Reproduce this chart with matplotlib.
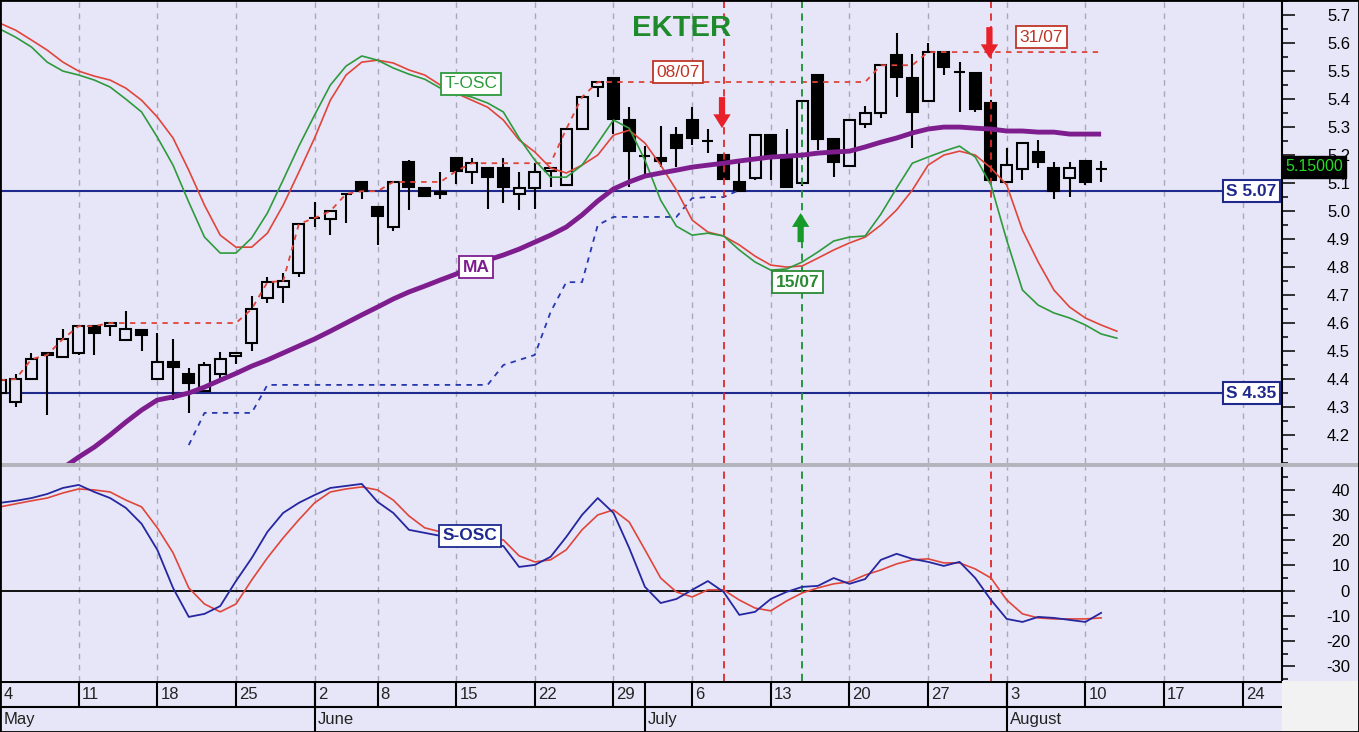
import numpy as np
import matplotlib
matplotlib.use('Agg')
import matplotlib.pyplot as plt
from matplotlib.ticker import MultipleLocator
from matplotlib.patches import Rectangle
from matplotlib.transforms import blended_transform_factory

plt.rcParams['font.family'] = ['Liberation Sans', 'DejaVu Sans']
plt.rcParams['axes.unicode_minus'] = False

# ---- data (trading-day index 0 = Mon 4 May) ----
opens = [4.350, 4.318, 4.400, 4.493, 4.479, 4.493, 4.589, 4.589, 4.539, 4.575,
         4.400, 4.461, 4.418, 4.357, 4.418, 4.482, 4.529, 4.689, 4.729, 4.779,
         4.975, 4.971, 5.061, 5.104, 5.014, 4.943, 5.175, 5.082, 5.061, 5.189,
         5.139, 5.154, 5.154, 5.061, 5.082, 5.143, 5.093, 5.293, 5.443, 5.475,
         5.325, 5.196, 5.189, 5.271, 5.325, 5.250, 5.200, 5.104, 5.118, 5.271,
         5.200, 5.100, 5.486, 5.257, 5.161, 5.311, 5.350, 5.557, 5.475, 5.393,
         5.568, 5.496, 5.493, 5.386, 5.104, 5.150, 5.211, 5.154, 5.118, 5.179,
         5.150]
highs = [4.414, 4.418, 4.493, 4.493, 4.579, 4.589, 4.589, 4.600, 4.643, 4.575,
         4.564, 4.543, 4.439, 4.461, 4.496, 4.493, 4.696, 4.764, 4.779, 4.957,
         5.032, 5.004, 5.061, 5.104, 5.014, 5.104, 5.182, 5.086, 5.139, 5.189,
         5.189, 5.154, 5.189, 5.139, 5.171, 5.154, 5.293, 5.410, 5.461, 5.475,
         5.371, 5.232, 5.304, 5.300, 5.371, 5.293, 5.200, 5.171, 5.271, 5.271,
         5.293, 5.393, 5.486, 5.257, 5.325, 5.375, 5.521, 5.636, 5.561, 5.600,
         5.568, 5.532, 5.493, 5.396, 5.225, 5.243, 5.254, 5.175, 5.175, 5.179,
         5.179]
lows = [4.307, 4.300, 4.400, 4.271, 4.479, 4.486, 4.486, 4.554, 4.539, 4.500,
        4.400, 4.325, 4.279, 4.357, 4.404, 4.454, 4.500, 4.671, 4.671, 4.764,
        4.943, 4.914, 4.957, 5.043, 4.879, 4.929, 5.004, 5.054, 5.043, 5.096,
        5.096, 5.007, 5.029, 5.004, 5.007, 5.086, 5.090, 5.293, 5.407, 5.275,
        5.086, 5.129, 5.157, 5.157, 5.236, 5.207, 5.114, 5.071, 5.111, 5.111,
        5.086, 5.090, 5.218, 5.121, 5.161, 5.296, 5.332, 5.407, 5.225, 5.393,
        5.486, 5.354, 5.354, 5.111, 5.104, 5.111, 5.154, 5.043, 5.050, 5.093,
        5.104]
closes = [4.396, 4.400, 4.471, 4.486, 4.543, 4.589, 4.564, 4.600, 4.579, 4.557,
          4.461, 4.443, 4.386, 4.450, 4.471, 4.493, 4.650, 4.746, 4.750, 4.954,
          4.975, 5.000, 5.061, 5.071, 4.982, 5.104, 5.086, 5.054, 5.068, 5.143,
          5.171, 5.121, 5.086, 5.082, 5.139, 5.154, 5.293, 5.407, 5.461, 5.329,
          5.214, 5.196, 5.179, 5.225, 5.261, 5.250, 5.114, 5.071, 5.271, 5.193,
          5.086, 5.393, 5.257, 5.175, 5.325, 5.350, 5.521, 5.479, 5.354, 5.568,
          5.514, 5.496, 5.364, 5.111, 5.164, 5.243, 5.175, 5.071, 5.154, 5.104,
          5.150]

ma_start = 4
ma = [4.082, 4.121, 4.157, 4.200, 4.246, 4.289, 4.325, 4.336, 4.350, 4.371,
      4.396, 4.420, 4.446, 4.468, 4.493, 4.518, 4.543, 4.571, 4.600, 4.629,
      4.657, 4.686, 4.711, 4.732, 4.754, 4.775, 4.807, 4.825, 4.843, 4.864,
      4.889, 4.914, 4.943, 4.986, 5.036, 5.079, 5.104, 5.125, 5.136, 5.146,
      5.157, 5.164, 5.171, 5.179, 5.186, 5.193, 5.196, 5.200, 5.207, 5.211,
      5.214, 5.229, 5.246, 5.261, 5.279, 5.293, 5.300, 5.300, 5.296, 5.293,
      5.286, 5.286, 5.282, 5.282, 5.275, 5.275, 5.275]

low_start = 12
low_stop = [4.164, 4.279, 4.279, 4.279, 4.279, 4.379, 4.379, 4.379, 4.379, 4.379,
            4.379, 4.379, 4.379, 4.379, 4.379, 4.379, 4.379, 4.379, 4.379, 4.379,
            4.450, 4.468, 4.486, 4.639, 4.746, 4.746, 4.950, 4.979, 4.979, 4.979,
            4.979, 4.979, 5.046, 5.050, 5.050, 5.075]

t_osc_fast = [5.650, 5.621, 5.586, 5.532, 5.500, 5.486, 5.468, 5.443, 5.400, 5.354,
              5.264, 5.164, 5.032, 4.907, 4.850, 4.850, 4.904, 4.993, 5.111, 5.232,
              5.343, 5.450, 5.518, 5.554, 5.539, 5.511, 5.489, 5.471, 5.439, 5.421,
              5.407, 5.386, 5.354, 5.261, 5.182, 5.121, 5.121, 5.164, 5.243, 5.325,
              5.296, 5.182, 5.039, 4.946, 4.914, 4.921, 4.911, 4.861, 4.818, 4.789,
              4.793, 4.818, 4.854, 4.893, 4.907, 4.911, 4.989, 5.082, 5.171, 5.193,
              5.214, 5.232, 5.193, 5.093, 4.896, 4.718, 4.664, 4.636, 4.618, 4.593,
              4.561, 4.546]
t_osc_slow = [5.671, 5.646, 5.611, 5.575, 5.532, 5.500, 5.482, 5.468, 5.439, 5.396,
              5.336, 5.261, 5.146, 5.021, 4.914, 4.871, 4.871, 4.921, 5.021, 5.139,
              5.261, 5.396, 5.486, 5.532, 5.539, 5.529, 5.504, 5.486, 5.450, 5.421,
              5.396, 5.371, 5.325, 5.254, 5.211, 5.154, 5.136, 5.164, 5.200, 5.271,
              5.289, 5.243, 5.164, 5.075, 4.968, 4.925, 4.911, 4.879, 4.839, 4.807,
              4.800, 4.804, 4.832, 4.861, 4.886, 4.907, 4.950, 5.004, 5.075, 5.164,
              5.200, 5.214, 5.200, 5.154, 5.093, 4.932, 4.818, 4.718, 4.657, 4.618,
              4.593, 4.571]

s_osc_fast = [34.8, 35.6, 36.7, 38.3, 40.7, 41.9, 39.1, 36.7, 32.8, 26.5,
              16.2, 1.1, -10.4, -9.2, -6.1, 3.8, 12.9, 23.3, 30.8, 34.8,
              37.9, 40.7, 41.5, 42.3, 35.2, 30.8, 24.1, 22.9, 21.7, 20.1,
              18.9, 18.1, 17.7, 9.4, 10.2, 13.4, 21.3, 30.0, 36.7, 30.8,
              16.9, 1.5, -4.9, -3.3, 0.3, 3.8, -0.5, -9.6, -8.4, -3.3,
              -0.5, 1.5, 1.9, 5.0, 2.7, 4.6, 12.2, 14.6, 12.6, 11.4,
              9.8, 11.4, 5.0, -3.7, -11.2, -12.4, -10.4, -10.8, -11.6, -12.4,
              -8.8]
s_osc_slow = [33.2, 34.4, 35.6, 36.7, 38.7, 40.3, 39.9, 39.1, 35.9, 33.2,
              24.9, 15.0, 1.1, -5.3, -8.4, -5.3, 4.2, 13.0, 20.9, 28.1,
              34.8, 39.1, 40.3, 41.1, 39.9, 35.9, 29.6, 24.9, 23.3, 22.1,
              20.9, 20.9, 20.1, 13.8, 11.4, 12.2, 16.2, 24.1, 30.0, 32.0,
              27.2, 16.2, 5.0, -0.5, -2.5, 0.3, 0.3, -3.7, -6.9, -8.0,
              -4.1, -0.9, 1.1, 2.7, 3.5, 6.2, 8.2, 10.6, 12.2, 12.6,
              11.0, 11.0, 8.6, 5.0, -3.7, -9.2, -10.8, -11.2, -11.2, -11.2,
              -10.8]

support_levels = [5.07, 4.35]
last_price = 5.15

sell_days = [46, 63]          # 08/07, 31/07
sell_labels = ['08/07', '31/07']
buy_days = [51]               # 15/07
buy_labels = ['15/07']

week_idx = [0, 5, 10, 15, 20, 24, 29, 34, 39, 44, 49, 54, 59, 64, 69, 74, 79]
week_lbl = ['4', '11', '18', '25', '2', '8', '15', '22', '29', '6', '13', '20',
            '27', '3', '10', '17', '24']
month_idx = [0, 20, 41, 64]
month_lbl = ['May', 'June', 'July', 'August']

# ---- style ----
BG = '#E6E6F8'
GRID = '#A8A8B8'
RED = '#E0453A'
GREEN = '#2E9A3C'
NAVY = '#1F2A8C'
PURPLE = '#7E1E8E'
SIG_RED = '#E02828'
SIG_GREEN = '#1A9030'

W, H = 1359, 732
fig = plt.figure(figsize=(W / 100, H / 100), dpi=100)
fig.patch.set_facecolor(BG)

def fx(px):
    return px / W

def fy(py):
    return 1 - py / H

ax = fig.add_axes([0, fy(463), fx(1282), (463) / H])
ax2 = fig.add_axes([0, fy(681), fx(1282), (681 - 467) / H])
axd = fig.add_axes([0, 0, fx(1282), 51 / H])

XMAX = 81.5
for a in (ax, ax2, axd):
    a.set_facecolor(BG)
    a.set_xlim(0, XMAX)
    for s in ('left', 'top', 'bottom'):
        a.spines[s].set_visible(False)
    a.spines['right'].set_linewidth(1.5)
    a.set_xticks([])

for a in (ax, ax2):
    a.yaxis.tick_right()
    a.tick_params(axis='y', which='major', direction='out', length=9.4, width=1.1,
                  pad=39.6, labelsize=12, colors='black')
    a.tick_params(axis='y', which='minor', direction='out', length=4.3, width=1.1)
    a.vlines(week_idx[1:], 0, 1, transform=a.get_xaxis_transform(), colors=GRID,
             linestyles=(0, (4, 4)), linewidth=1, zorder=1)
    for d in sell_days:
        a.axvline(d, color=SIG_RED, ls=(0, (4, 3)), lw=1.3, zorder=4)
    for d in buy_days:
        a.axvline(d, color=SIG_GREEN, ls=(0, (4, 3)), lw=1.3, zorder=4)

# ---- main price pane ----
ax.set_ylim(4.1, 5.754)
ax.yaxis.set_minor_locator(MultipleLocator(0.05))
ax.set_yticks(np.arange(4.2, 5.75, 0.1))
ax.set_yticklabels([f'{v:.1f}' for v in np.arange(4.2, 5.75, 0.1)])

idx = np.arange(len(closes))
for i in idx:
    o, h, l, c = opens[i], highs[i], lows[i], closes[i]
    ax.vlines(i, l, h, color='black', lw=1.5, zorder=3)
    lo, hi = min(o, c), max(o, c)
    fc = 'black' if c < o else BG
    ax.add_patch(Rectangle((i - 0.35, lo), 0.7, hi - lo, fc=fc, ec='black', lw=1.5, zorder=3))

ax.plot(idx, np.maximum.accumulate(closes), color=RED, ls=(0, (3, 3)), lw=1.3, zorder=3.5)
ax.plot(np.arange(low_start, low_start + len(low_stop)), low_stop, color='#2838B0',
        ls=(0, (3, 3)), lw=1.3, zorder=3.5)

tx = np.arange(len(t_osc_fast))
ax.plot(tx, t_osc_slow, color=RED, lw=1.2, zorder=4)
ax.plot(tx, t_osc_fast, color=GREEN, lw=1.2, zorder=4)
ax.plot(np.arange(ma_start, ma_start + len(ma)), ma, color=PURPLE, lw=3.5, zorder=5,
        solid_capstyle='butt')

for lv in support_levels:
    ax.axhline(lv, color=NAVY, lw=1.5, zorder=2)
blend = blended_transform_factory(ax.transAxes, ax.transData)
for lv in support_levels:
    ax.text(0.9955, lv, f'S {lv:.2f}', transform=blend, ha='right', va='center',
            fontsize=12.5, fontweight='bold', color=NAVY, zorder=6,
            bbox=dict(boxstyle='square,pad=0.2', fc='white', ec=NAVY, lw=1.5))

ax.text(1.0025, last_price + 0.008, f'{last_price:.5f}', transform=blend, ha='left',
        va='center', fontsize=11.5, color='#22DD22', zorder=10, clip_on=False,
        bbox=dict(boxstyle='square,pad=0.2', fc='black', ec='black'))

ax.text(43.3, 5.655, 'EKTER', ha='center', va='center', fontsize=21,
        fontweight='bold', color='#1E8A2C', zorder=6)

def box(a, x, y, s, col, bold=False):
    a.text(x, y, s, ha='center', va='center', fontsize=12.5, color=col,
           fontweight='bold' if bold else 'normal', zorder=7,
           bbox=dict(boxstyle='square,pad=0.2', fc='white', ec=col, lw=1.3))

box(ax, 29.95, 5.454, 'T-OSC', GREEN)
box(ax, 30.25, 4.800, 'MA', PURPLE, bold=True)
box(ax, 43.1, 5.496, sell_labels[0], '#C03528')
box(ax, 66.2, 5.621, sell_labels[1], '#C03528')
box(ax, 50.7, 4.746, buy_labels[0], '#2A8A34', bold=True)

arrow = 'simple,head_length=1.0,head_width=1.25,tail_width=0.45'
for d, top in zip(sell_days, [5.407, 5.657]):
    ax.annotate('', xy=(d - 0.1, top - 0.111), xytext=(d - 0.1, top),
                arrowprops=dict(arrowstyle=arrow, fc='#E8202A', ec='none',
                                shrinkA=0, shrinkB=0, mutation_scale=10), zorder=8)
for d in buy_days:
    ax.annotate('', xy=(d - 0.1, 4.993), xytext=(d - 0.1, 4.889),
                arrowprops=dict(arrowstyle=arrow, fc='#189A28', ec='none',
                                shrinkA=0, shrinkB=0, mutation_scale=10), zorder=8)

# ---- oscillator pane ----
ax2.set_ylim(-35.8, 49.0)
ax2.set_yticks(np.arange(-30, 41, 10))
ax2.yaxis.set_minor_locator(MultipleLocator(5))
ax2.axhline(0, color='black', lw=1.3, zorder=2)
sx = np.arange(len(s_osc_fast))
ax2.plot(sx, s_osc_slow, color=RED, lw=1.2, zorder=4)
ax2.plot(sx, s_osc_fast, color='#2626A0', lw=1.3, zorder=4)
box(ax2, 29.9, 21.7, 'S-OSC', '#1E2A90', bold=True)

for a in (ax, ax2):
    for lab in a.get_yticklabels():
        lab.set_horizontalalignment('right')

# ---- date band ----
axd.set_ylim(0, 1)
axd.set_yticks([])
axd.spines['right'].set_visible(False)
axd.axhline(0.99, color='black', lw=1.5)
axd.axhline(0.5, color='black', lw=1.5)
axd.vlines(week_idx[1:], 0.5, 1, colors='black', lw=1.5)
axd.vlines(month_idx[1:], 0, 1, colors='black', lw=1.5)
for i, s in zip(week_idx, week_lbl):
    axd.text(i + 0.2, 0.74, s, ha='left', va='center', fontsize=12, color='#222222')
for i, s in zip(month_idx, month_lbl):
    axd.text(i + 0.2, 0.24, s, ha='left', va='center', fontsize=12, color='#222222')

# separators and frame
fig.add_artist(Rectangle((0, fy(467)), 1, 4 / H, transform=fig.transFigure,
                         fc='#B4B4BC', ec='none'))
fig.add_artist(Rectangle((fx(1282), 0), 1 - fx(1282), 51 / H, transform=fig.transFigure,
                         fc='#F2F2F2', ec='none'))
fig.add_artist(Rectangle((0, 0), 1, 1, transform=fig.transFigure, fc='none',
                         ec='black', lw=2))

fig.savefig('out.png', dpi=100, facecolor=fig.get_facecolor())
